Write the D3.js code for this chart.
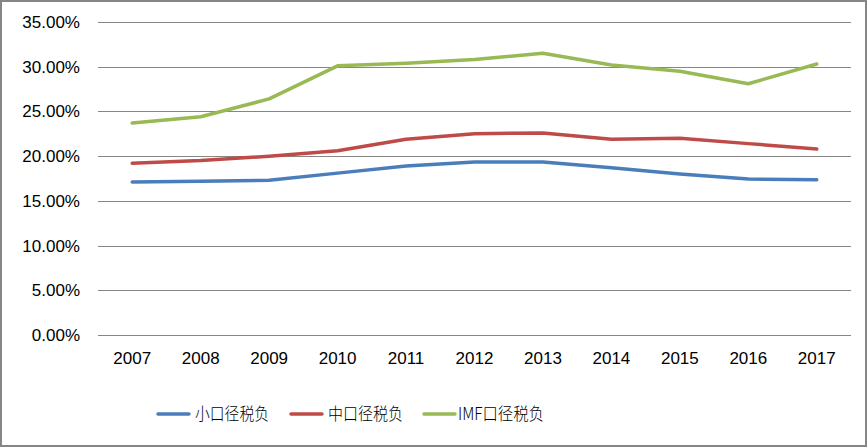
<!DOCTYPE html>
<html><head><meta charset="utf-8">
<script src="https://cdn.jsdelivr.net/npm/d3@7"></script>
<style>
html,body{margin:0;padding:0;background:#fff;}
svg{display:block;}
</style></head>
<body>
<svg id="chart" width="867" height="447"></svg>
<script>
const years = ["2007","2008","2009","2010","2011","2012","2013","2014","2015","2016","2017"];
const seriesNames = ["小口径税负","中口径税负","IMF口径税负"];
const small = [17.1,17.2,17.3,18.1,18.9,19.35,19.35,18.7,18.0,17.45,17.35];
const medium = [19.2,19.5,20.0,20.6,21.9,22.5,22.6,21.9,22.0,21.4,20.8];
const imf = [23.7,24.4,26.4,30.1,30.4,30.8,31.5,30.2,29.5,28.1,30.3];
const yTicks = [0,5,10,15,20,25,30,35];
const colors = ["#4a7ebb","#be4b48","#98b954"];

(function(){
const svg = d3.select("#chart");
const W = 867, H = 447;
svg.append("rect").attr("x",1).attr("y",1).attr("width",W-2).attr("height",H-2)
  .attr("fill","#fff").attr("stroke","#868686").attr("stroke-width",2);

const pL = 98, pR = 851, pT = 22, pB = 335;
const x = d3.scaleBand().domain(years).range([pL,pR]);
const y = d3.scaleLinear().domain([0,35]).range([pB,pT]);

const font = "'Liberation Sans', Arial, sans-serif";

svg.append("g").selectAll("line").data(yTicks).join("line")
  .attr("x1",pL).attr("x2",pR)
  .attr("y1",d=>Math.round(y(d))+0.5).attr("y2",d=>Math.round(y(d))+0.5)
  .attr("stroke","#868686").attr("stroke-width",1);

const yAxis = d3.axisLeft(y).tickValues(yTicks).tickSize(0).tickPadding(0)
  .tickFormat(d=>d.toFixed(2)+"%");
const gy = svg.append("g").attr("transform",`translate(${80},0)`).call(yAxis);
gy.select(".domain").remove();
gy.selectAll("text").attr("font-family",font).attr("font-size",17).attr("fill","#000");

const xAxis = d3.axisBottom(x).tickSize(0).tickPadding(0);
const gx = svg.append("g").attr("transform",`translate(0,${352})`).call(xAxis);
gx.select(".domain").remove();
gx.selectAll("text").attr("font-family",font).attr("font-size",17).attr("fill","#000");

const data = [small, medium, imf];
const line = d3.line().x((d,i)=>x(years[i])+x.bandwidth()/2).y(d=>y(d));
svg.append("g").selectAll("path").data(data).join("path")
  .attr("d",line).attr("fill","none")
  .attr("stroke",(d,i)=>colors[i]).attr("stroke-width",3.5)
  .attr("stroke-linejoin","round").attr("stroke-linecap","round");

const legendX = [158,291,424];
const legendW = [74,75,86];
const lg = svg.append("g").selectAll("g").data(seriesNames).join("g")
  .attr("transform",(d,i)=>`translate(${legendX[i]},${414})`);
lg.append("line").attr("x1",0).attr("x2",31).attr("y1",0).attr("y2",0)
  .attr("stroke",(d,i)=>colors[i]).attr("stroke-width",3.5).attr("stroke-linecap","round");
lg.append("text").attr("x",(d,i)=>i===2?34:37).attr("y",0).attr("dy","0.36em")
  .attr("font-family","'Noto Sans CJK SC', sans-serif").attr("font-weight",300)
  .attr("font-size",17.5).attr("fill","#000")
  .attr("textLength",(d,i)=>legendW[i]).attr("lengthAdjust","spacingAndGlyphs")
  .text(d=>d);
})();
</script>
</body></html>
